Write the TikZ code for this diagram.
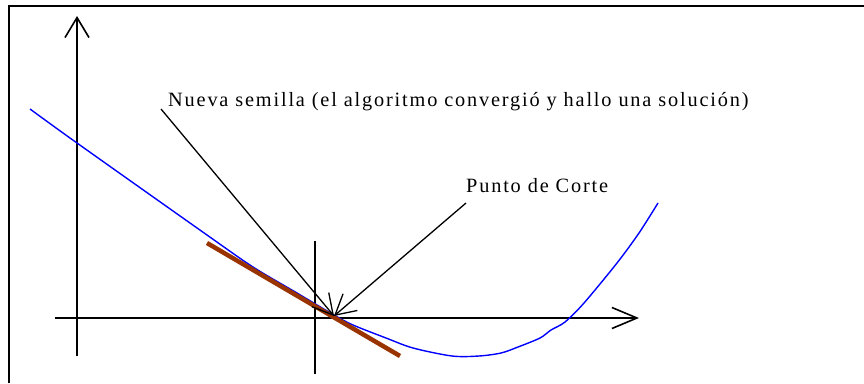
\documentclass[tikz,border=0pt]{standalone}
\usepackage{fontspec}
\setmainfont{Liberation Serif}
\usetikzlibrary{arrows.meta}
\definecolor{curveblue}{RGB}{0,0,255}
\definecolor{tanbrown}{RGB}{153,51,0}

\begin{document}
\begin{tikzpicture}[x=1pt,y=-1pt,
    axisline/.style={line width=1.6pt},
    pointer/.style={line width=1.3pt,-{Straight Barb[length=20pt,width=22pt]}},
    lbl/.style={anchor=base west,inner sep=0pt,
      font=\fontsize{20.3}{23}\selectfont\addfontfeatures{LetterSpace=9}}]
    % Metodo de Newton: la tangente corta al eje en la nueva semilla
    \useasboundingbox (0,0) rectangle (864,383);
    \draw[line width=2.5pt] (9,383) -- (9,6) -- (864,6);
    % ejes
    \coordinate (ybot) at (77,356);
    \coordinate (ytop) at (77,16);
    \coordinate (xleft) at (55,318);
    \coordinate (xright) at (639,318);
    \draw[axisline,-{Straight Barb[length=20pt,width=24pt]}] (ybot) -- (ytop);
    \draw[axisline,-{Straight Barb[length=25pt,width=21pt]}] (xleft) -- (xright);
    \coordinate (rtop) at (315,241);
    \coordinate (rbot) at (315,374);
    \draw[line width=1.2pt] (rtop) -- (rbot);
    % funcion
    \draw[curveblue,line width=1.4pt] plot[smooth,tension=0.5] coordinates {
      (30,109) (77,143) (207,235) (253,267) (297,293)
      (334,315) (353,325) (386,338) (413,348) (452,356) (479,356) (501,353)
      (518,347) (540,338) (551,330) (565,322) (584,303) (617,263) (639,233)
      (658,203)};
    % tangente
    \coordinate (tan1) at (207,243);
    \coordinate (tan2) at (400,356);
    \draw[tanbrown,line width=4.5pt] (tan1) -- (tan2);
    % etiquetas
    \coordinate (corte) at (334,316);
    \node[lbl] (semilla) at (168,106) {Nueva semilla (el algoritmo convergió y hallo una solución)};
    \node[lbl] (punto) at (466,192) {Punto de Corte};
    \coordinate (from1) at (161,109);
    \coordinate (from2) at (466,203);
    \draw[pointer] (from1) -- (corte);
    \draw[pointer] (from2) -- (corte);
\end{tikzpicture}
\end{document}
